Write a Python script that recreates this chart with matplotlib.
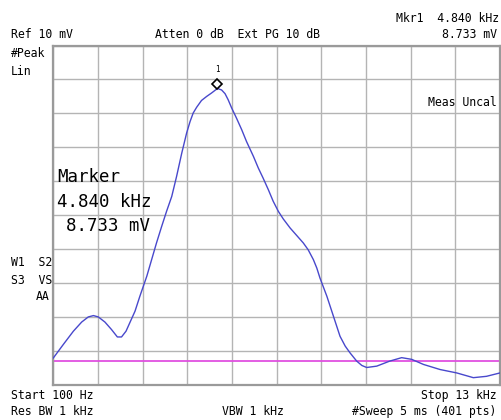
"""Spectrum analyzer screen: linear trace with peak marker."""

import matplotlib.pyplot as plt
import numpy as np

# trace: frequency in kHz, amplitude in mV
freq_khz = [0.10, 0.39, 0.68, 0.92, 1.11, 1.26, 1.40, 1.59, 1.78, 1.95,
            2.07, 2.20, 2.31, 2.46, 2.60, 2.80, 2.94, 3.08, 3.23, 3.37,
            3.52, 3.66, 3.81, 3.95, 4.05, 4.14, 4.24, 4.38, 4.53, 4.67,
            4.84, 4.96, 5.06, 5.15, 5.25, 5.39, 5.54, 5.68, 5.88, 6.02,
            6.16, 6.31, 6.45, 6.60, 6.74, 6.94, 7.13, 7.32, 7.46, 7.61,
            7.71, 7.80, 8.00, 8.19, 8.38, 8.53, 8.67, 8.86, 9.01, 9.15,
            9.44, 9.82, 10.16, 10.45, 10.79, 11.27, 11.75, 12.23, 12.61,
            13.00]
level_mv = [0.79, 1.19, 1.58, 1.85, 2.00, 2.04, 2.00, 1.85, 1.63, 1.41,
            1.41, 1.58, 1.83, 2.17, 2.61, 3.20, 3.69, 4.18, 4.67, 5.11,
            5.55, 6.14, 6.83, 7.42, 7.76, 8.01, 8.18, 8.38, 8.50, 8.60,
            8.733, 8.69, 8.58, 8.40, 8.16, 7.86, 7.52, 7.17, 6.73, 6.39,
            6.09, 5.75, 5.41, 5.11, 4.89, 4.62, 4.40, 4.18, 3.98, 3.69,
            3.44, 3.15, 2.61, 2.02, 1.43, 1.14, 0.94, 0.70, 0.57, 0.51,
            0.55, 0.70, 0.80, 0.75, 0.60, 0.45, 0.35, 0.21, 0.25,
            0.35]

start_khz, stop_khz = 0.1, 13.0
ref_mv = 10.0
display_line_mv = 0.71
marker_khz, marker_mv = 4.840, 8.733

W, H = 501, 420
MONO = "DejaVu Sans Mono"


def px(x, y):
    """Pixel position (from the top left) to figure fraction."""
    return x / W, 1 - y / H


fig = plt.figure(figsize=(W / 100, H / 100), dpi=100)
fig.patch.set_facecolor("white")
ax = fig.add_axes([53.3 / W, (H - 384.8) / H, 446.7 / W, 339.3 / H])

ax.plot(freq_khz, level_mv, color="#4848cc", linewidth=1.0, zorder=3,
        solid_joinstyle="round")
ax.axhline(display_line_mv, color="#e050e0", linewidth=1.3, zorder=2)
ax.plot([marker_khz], [marker_mv + 0.13], marker="D", markersize=5,
        markerfacecolor="white", markeredgecolor="black",
        markeredgewidth=1.2, zorder=4)
ax.text(marker_khz, marker_mv + 0.42, "1", fontsize=5.5, family=MONO,
        ha="center", va="bottom")

ax.set_xlim(start_khz, stop_khz)
ax.set_ylim(0, ref_mv)
ax.set_xticks(np.linspace(start_khz, stop_khz, 11))
ax.set_yticks(np.linspace(0, ref_mv, 11))
ax.tick_params(length=0, labelbottom=False, labelleft=False)
ax.grid(color="#b4b4b4", linewidth=1.0)
for spine in ax.spines.values():
    spine.set_color("#9a9a9a")
    spine.set_linewidth(1.6)

small = dict(family=MONO, fontsize=8.3, va="center")
fig.text(*px(11, 34.5), "Ref 10 mV", **small)
fig.text(*px(155, 34.5), "Atten 0 dB  Ext PG 10 dB", **small)
fig.text(*px(11, 53.5), "#Peak", **small)
fig.text(*px(11, 71.5), "Lin", **small)
fig.text(*px(499, 18.5), "Mkr1  4.840 kHz", ha="right", **small)
fig.text(*px(497, 34.5), "8.733 mV", ha="right", **small)
fig.text(*px(497, 102.5), "Meas Uncal", ha="right", **small)
fig.text(*px(11, 263), "W1  S2", **small)
fig.text(*px(11, 280), "S3  VS", **small)
fig.text(*px(50, 297), "AA", ha="right", **small)
fig.text(*px(11, 395.5), "Start 100 Hz", **small)
fig.text(*px(11, 411.5), "Res BW 1 kHz", **small)
fig.text(*px(222, 411.5), "VBW 1 kHz", **small)
fig.text(*px(497, 395.5), "Stop 13 kHz", ha="right", **small)
fig.text(*px(496, 411.5), "#Sweep 5 ms (401 pts)", ha="right", **small)

big = dict(family=MONO, fontsize=12.5, va="center")
fig.text(*px(57, 177), "Marker", **big)
fig.text(*px(57, 201.5), "4.840 kHz", **big)
fig.text(*px(66, 226), "8.733 mV", **big)

fig.savefig("out.png", dpi=100, facecolor="white")
plt.close(fig)
